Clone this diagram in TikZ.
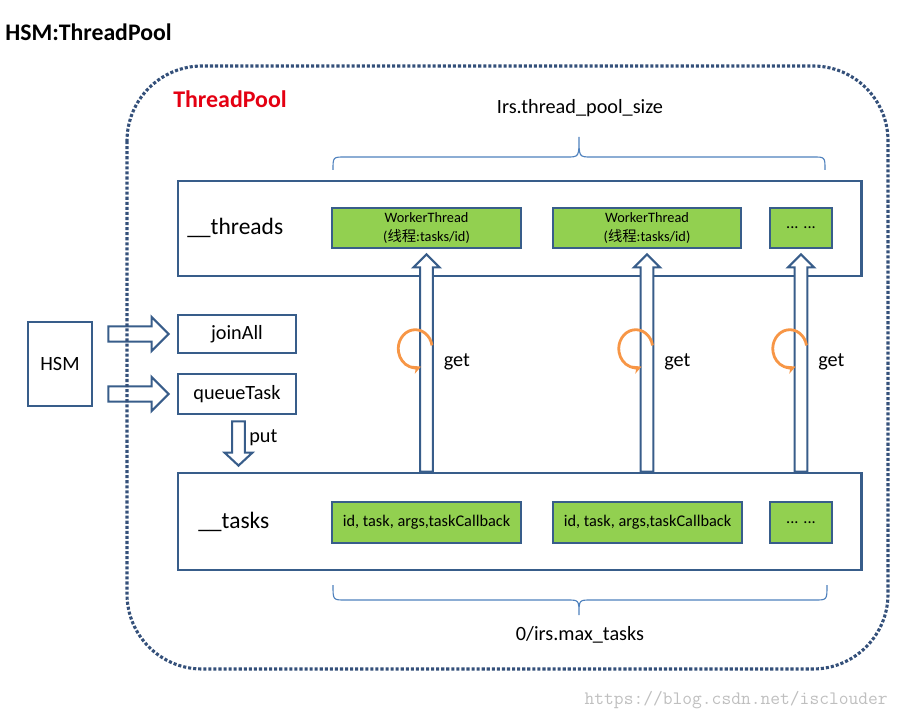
\documentclass[tikz,border=0pt]{standalone}
\usepackage{fontspec}
\setmainfont{Carlito}
\newfontfamily\cjk{Noto Sans CJK SC}
\usetikzlibrary{calc,arrows.meta}
\definecolor{LineClr}{RGB}{56,93,138}
\definecolor{CellClr}{RGB}{146,208,80}
\definecolor{LoopClr}{RGB}{247,150,70}
\definecolor{BraceClr}{RGB}{79,129,189}
\definecolor{PoolClr}{RGB}{52,80,122}
\definecolor{TitleClr}{RGB}{228,0,18}

\tikzset{
  box/.style={draw=LineClr,line width=2pt,fill=white,inner sep=0pt,
    font=\fontsize{14.4}{17}\selectfont},
  cell/.style={box,fill=CellClr,align=center,font=\fontsize{11.6}{13}\selectfont},
  lbl/.style={inner sep=0pt,font=\fontsize{14.4}{17}\selectfont},
  blockarrow/.style n args={3}{draw=LineClr,line width=1.5pt,fill=white,
    to path={let \p1=(\tikztostart),\p2=(\tikztotarget),\p3=($(\p2)!#3!(\p1)$) in
      ($(\p1)!#1!90:(\p2)$) -- ($(\p3)!#1!90:(\p2)$) -- ($(\p3)!#2!90:(\p2)$) -- (\p2)
      -- ($(\p3)!#2!-90:(\p2)$) -- ($(\p3)!#1!-90:(\p2)$) -- ($(\p1)!#1!-90:(\p2)$) -- cycle}},
  getloop/.style={draw=LoopClr,line width=2pt,-{Stealth[length=6pt,width=6pt]}},
  curly/.style={draw=BraceClr,line width=0.8pt}
}

\begin{document}
\begin{tikzpicture}[x=0.025cm,y=-0.025cm]
\useasboundingbox (0,0) rectangle (900,720);

\node[anchor=west,inner sep=0pt,font=\bfseries\fontsize{16.9}{20}\selectfont] (title) at (5,32) {HSM:ThreadPool};

\node[box,minimum width=17.075cm,minimum height=2.375cm] (threads) at (519.5,228.5) {};
\node[box,minimum width=17.075cm,minimum height=2.425cm] (tasks) at (519.5,521.5) {};
\node[lbl,anchor=west,font=\fontsize{16.7}{20}\selectfont] (thlabel) at (187,228) {\_\_threads};
\node[lbl,anchor=west,font=\fontsize{16.7}{20}\selectfont] (tklabel) at (198,522) {\_\_tasks};

\node[cell,minimum width=4.725cm,minimum height=1cm,font=\fontsize{10.2}{13.5}\selectfont] (wt1) at (426.5,228) {WorkerThread\\({\cjk 线程}:tasks/id)};
\node[cell,minimum width=4.7cm,minimum height=1cm,font=\fontsize{10.2}{13.5}\selectfont] (wt2) at (647,228) {WorkerThread\\({\cjk 线程}:tasks/id)};
\node[cell,minimum width=1.55cm,minimum height=1cm] (wt3) at (801,228) {... ...};

\node[cell,minimum width=4.725cm,minimum height=1.025cm] (tk1) at (426.5,522.5) {id, task, args,taskCallback};
\node[cell,minimum width=4.725cm,minimum height=1.025cm] (tk2) at (647.5,522.5) {id, task, args,taskCallback};
\node[cell,minimum width=1.55cm,minimum height=1.025cm] (tk3) at (801,522.5) {... ...};

\node[box,minimum width=1.6cm,minimum height=2.1cm] (hsm) at (60,364) {HSM};
\node[box,minimum width=2.95cm,minimum height=0.95cm] (join) at (237,334) {joinAll};
\node[box,minimum width=2.95cm,minimum height=1cm] (queue) at (237,394) {queueTask};

\foreach \i in {1,2,3}{
  \draw[blockarrow={0.16cm}{0.325cm}{0.325cm}] (wt\i |- tasks.north) to ($(wt\i.south)+(0,5)$);
  \node[lbl,anchor=west] (get\i) at ($(wt\i.south)+(17,112)$) {get};
  \draw[getloop] ($(get\i.west)+(-11.5,-16)$) arc[start angle=10,end angle=290,x radius=0.425cm,y radius=0.475cm];
}

\draw[blockarrow={0.19cm}{0.425cm}{0.425cm}] ($(hsm.east |- join)+(15,0)$) to ($(join.west)+(-8,0)$);
\draw[blockarrow={0.19cm}{0.425cm}{0.425cm}] ($(hsm.east |- queue)+(15,0)$) to ($(queue.west)+(-8,0)$);
\draw[blockarrow={0.16cm}{0.35cm}{0.325cm}] ($(queue.south)+(1.5,6)$) to ($(queue.south |- tasks.north)+(1.5,-6)$);
\node[lbl,anchor=west] (put) at (249,438) {put};

\draw[curly] (333,170) .. controls (333,157) .. (345,157) -- (567,157) .. controls (579,157) .. (579,137)
  .. controls (579,157) .. (591,157) -- (813,157) .. controls (825,157) .. (825,170);
\node[lbl] (poolsize) at (580,108) {Irs.thread\_pool\_size};
\draw[curly] (333,585) .. controls (333,600) .. (345,600) -- (567,600) .. controls (579,600) .. (579,615)
  .. controls (579,600) .. (591,600) -- (815,600) .. controls (827,600) .. (827,585);
\node[lbl] (maxtasks) at (580,635) {0/irs.max\_tasks};

\draw[PoolClr,line width=2.2pt,dash pattern=on 2.2pt off 1.4pt,rounded corners=1.875cm] (127,66) rectangle (888,669);
\node[anchor=west,inner sep=0pt,text=TitleClr,font=\bfseries\fontsize{17}{20}\selectfont] (pool) at (173,99) {ThreadPool};

\node[anchor=east,inner sep=0pt,text=black!25,font=\ttfamily\fontsize{13.5}{15}\selectfont] (mark) at (888,700) {https://blog.csdn.net/isclouder};
\end{tikzpicture}
\end{document}
